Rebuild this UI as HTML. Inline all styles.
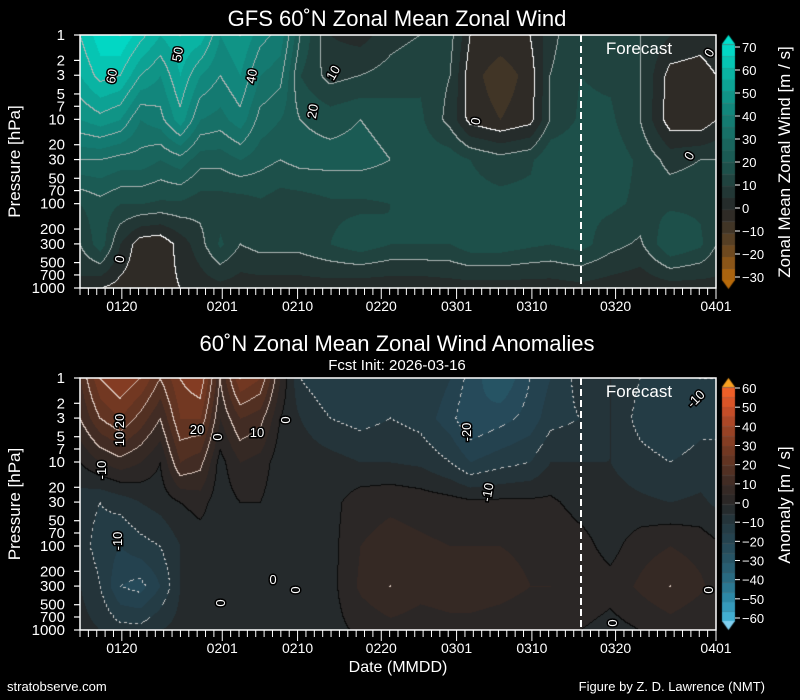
<!DOCTYPE html>
<html><head><meta charset="utf-8"><style>
body{margin:0;background:#000;width:800px;height:700px;overflow:hidden;font-family:"Liberation Sans",Arial,sans-serif}
canvas{position:absolute;left:0;top:0}
svg{position:absolute;left:0;top:0}
</style></head><body>
<canvas id="c" width="800" height="700"></canvas>
<svg width="800" height="700" id="s" font-family="Liberation Sans, Arial, sans-serif" fill="#fff"></svg>
<script>
const X=[80,100,120,140,160,180,200,220,240,260,280,300,330,360,390,420,450,470,500,530,550,580,610,640,670,700,716];
const LP=[0,Math.log10(3),1,Math.log10(30),2,Math.log10(300),3];
const T=[[60,55,45,30,15,10,3],[68,62,48,30,18,18,0],[70,60,45,28,15,5,-2],[62,50,35,28,15,-3,-3],[55,45,38,25,14,-4,-2],[60,55,48,28,14,2,0],[58,45,35,22,12,8,2],[45,40,33,22,12,16,3],[50,45,38,25,12,10,2],[42,35,28,22,14,12,2],[38,32,25,20,12,12,2],[20,15,20,22,12,12,2],[5,8,18,22,14,15,2],[3,10,20,22,14,18,1],[8,12,18,20,15,15,1],[10,14,16,18,15,15,1],[12,10,8,18,16,15,2],[0,-3,-2,15,17,18,2],[-2,-8,-5,12,17,18,2],[0,-3,-2,14,17,16,2],[8,10,10,20,17,15,2],[15,15,16,20,16,17,3],[12,14,16,18,16,12,2],[10,10,10,14,14,9,1],[5,-2,-3,8,14,20,2],[3,-3,-4,10,14,16,2],[5,0,0,10,12,10,3]];
const B=[[15,10,0,-8,-8,-5,-3],[30,20,5,-10,-12,-10,-5],[35,25,8,-8,-15,-20,-8],[30,18,5,-5,-12,-22,-8],[20,10,0,-3,-10,-15,-5],[30,25,15,0,-5,-5,-3],[35,25,12,2,-3,-3,-2],[10,5,-2,-3,-3,-2,-2],[30,15,5,0,-3,-3,-2],[25,12,3,0,-3,-2,-2],[5,0,-3,-3,-3,-2,-2],[-10,-5,-2,-3,-3,-2,-2],[-15,-10,-3,-2,-2,-2,-2],[-15,-12,-5,3,5,6,1],[-12,-10,-5,4,7,10,3],[-10,-12,-6,3,6,7,2],[-15,-18,-10,2,5,8,3],[-22,-25,-15,1,5,8,3],[-30,-22,-12,1,5,7,2],[-20,-18,-10,1,4,5,1],[-15,-12,-5,1,4,5,1],[-8,-10,-5,-2,2,4,0],[-5,-5,-5,-3,-2,2,-2],[-10,-12,-8,-4,3,6,0],[-12,-15,-10,-5,5,10,2],[-10,-12,-8,-4,3,6,0],[-10,-12,-8,-6,1,3,0]];
const CT=[[-30,'#b86a0a'],[-20,'#7a4e1c'],[-10,'#4a3a26'],[0,'#262626'],[10,'#213d3a'],[20,'#1c564f'],[30,'#186a62'],[40,'#138076'],[50,'#0f9a8c'],[60,'#08bcab'],[70,'#00e0cc']];
const CB=[[-60,'#48b8dc'],[-50,'#2e90b0'],[-40,'#2a7088'],[-30,'#27586a'],[-20,'#254654'],[-10,'#233840'],[0,'#262626'],[10,'#3a2a24'],[20,'#5a3222'],[30,'#7a3a22'],[40,'#a04426'],[50,'#d05028'],[60,'#f86428']];
function hx(h){return [1,3,5].map(i=>parseInt(h.substr(i,2),16));}
function cm(st,v){if(v<=st[0][0])return hx(st[0][1]);for(let i=1;i<st.length;i++){if(v<=st[i][0]){const a=hx(st[i-1][1]),b=hx(st[i][1]),t=(v-st[i-1][0])/(st[i][0]-st[i-1][0]);return a.map((q,k)=>q+(b[k]-q)*t);}}return hx(st[st.length-1][1]);}
function val(G,x,lp){let i=0;while(i<X.length-2&&x>X[i+1])i++;let tx=(x-X[i])/(X[i+1]-X[i]);tx=Math.max(0,Math.min(1,tx));let j=0;while(j<LP.length-2&&lp>LP[j+1])j++;let ty=(lp-LP[j])/(LP[j+1]-LP[j]);ty=Math.max(0,Math.min(1,ty));
const a=G[i][j],b=G[i+1][j],c=G[i][j+1],d=G[i+1][j+1];return a*(1-tx)*(1-ty)+b*tx*(1-ty)+c*(1-tx)*ty+d*tx*ty+0.013;}
const ctx=document.getElementById('c').getContext('2d');
function draw(G,st,y0,y1,anom){const w=636,h=y1-y0;const img=ctx.createImageData(w,h);const V=[];
for(let y=0;y<h;y++){const lp=3*y/h;const row=[];for(let x=0;x<w;x++){row.push(val(G,80+x,lp));}V.push(row);}
for(let y=0;y<h;y++)for(let x=0;x<w;x++){const v=V[y][x];const q=Math.floor(v/5)*5+2.5;let c=cm(st,q);
const l=Math.floor(v/10);let edge=null;
if(x<w-1&&Math.floor(V[y][x+1]/10)!==l)edge=Math.max(v,V[y][x+1]);if(y<h-1&&Math.floor(V[y+1][x]/10)!==l)edge=Math.max(v,V[y+1][x]);
if(edge!==null){const lv=Math.floor(edge/10)*10;
if(anom){if(lv===0)c=[10,10,10];else if(lv>0)c=[220,200,190];else c=((x+y)%6<3)?[200,200,200]:c;}
else{c=lv===0?[255,255,255]:[170,180,178];}}
const k=(y*w+x)*4;img.data[k]=c[0];img.data[k+1]=c[1];img.data[k+2]=c[2];img.data[k+3]=255;}
ctx.putImageData(img,80,y0);}
draw(T,CT,35,288,false);draw(B,CB,378,630,true);
function cbar(st,y0,y1,vmin,vmax,step){const n=(vmax-vmin)/step;const hh=(y1-y0)/n;for(let i=0;i<n;i++){const c=cm(st,vmin+step*(i+0.5));ctx.fillStyle='rgb('+c.map(Math.round)+')';ctx.fillRect(722,y1-(i+1)*hh,13,hh+0.5);ctx.fillStyle='#666';ctx.fillRect(722,y1-(i+1)*hh,13,0.6);}}
cbar(CT,44,280,-30,70,5);cbar(CB,387,621,-60,60,5);
function tri(y,tip,c){ctx.fillStyle=c;ctx.beginPath();ctx.moveTo(722,y);ctx.lineTo(735,y);ctx.lineTo(728.5,tip);ctx.closePath();ctx.fill();}
tri(44,35,'#00e0cc');tri(280,289,'#b86a0a');tri(387,378,'#f8a020');tri(621,630,'#80d0f0');
let s='';
const P=[1,2,3,5,7,10,20,30,50,70,100,200,300,500,700,1000];
function axes(y0,y1){s+=`<rect x="80" y="${y0}" width="636" height="${y1-y0}" fill="none" stroke="#fff" stroke-width="1.5"/>`;
P.forEach(p=>{const y=y0+(y1-y0)*Math.log10(p)/3;s+=`<line x1="74" x2="80" y1="${y}" y2="${y}" stroke="#fff" stroke-width="1.2"/><text x="65" y="${y+5}" font-size="15" text-anchor="end">${p}</text>`;});
for(let d=0;d<=76;d++){const x=80+d*636/76;const maj=[5,17,26,36,45,54,64,76].includes(d);s+=`<line x1="${x}" x2="${x}" y1="${y1}" y2="${y1+(maj?11:7)}" stroke="#fff" stroke-width="1"/>`;}
[['0120',5],['0201',17],['0210',26],['0220',36],['0301',45],['0310',54],['0320',64],['0401',76]].forEach(a=>{const x=80+a[1]*636/76;s+=`<text x="${x}" y="${y1+23}" font-size="14" text-anchor="middle">${a[0]}</text>`;});
s+=`<line x1="581" x2="581" y1="${y0}" y2="${y1}" stroke="#fff" stroke-width="2" stroke-dasharray="7,4"/><text x="639" y="${y0+19}" font-size="17" text-anchor="middle">Forecast</text>`;
s+=`<text transform="translate(20,${(y0+y1)/2}) rotate(-90)" font-size="17" text-anchor="middle">Pressure [hPa]</text>`;}
axes(35,288);axes(378,630);
function cticks(y0,y1,vmin,vmax,step){for(let v=vmin;v<=vmax;v+=step){const y=y1-(v-vmin)/(vmax-vmin)*(y1-y0);s+=`<line x1="735" x2="740" y1="${y}" y2="${y}" stroke="#fff"/><text x="742" y="${y+5}" font-size="13">${v<0?'−'+(-v):v}</text>`;}}
cticks(47,277,-30,70,10);cticks(388,618,-60,60,10);
s+=`<text transform="translate(790,162) rotate(-90)" font-size="17" text-anchor="middle">Zonal Mean Zonal Wind [m / s]</text>`;
s+=`<text transform="translate(790,505) rotate(-90)" font-size="17" text-anchor="middle">Anomaly [m / s]</text>`;
s+=`<text x="397" y="26" font-size="22" text-anchor="middle">GFS 60˚N Zonal Mean Zonal Wind</text>`;
s+=`<text x="397" y="351" font-size="22" text-anchor="middle">60˚N Zonal Mean Zonal Wind Anomalies</text>`;
s+=`<text x="397" y="370" font-size="15" text-anchor="middle">Fcst Init: 2026-03-16</text>`;
s+=`<text x="398" y="672" font-size="16" text-anchor="middle">Date (MMDD)</text>`;
s+=`<text x="7" y="691" font-size="13">stratobserve.com</text><text x="765" y="691" font-size="13" text-anchor="end">Figure by Z. D. Lawrence (NMT)</text>`;
function lab(x,y,t,r){s+=`<text transform="translate(${x},${y}) rotate(${r||0})" font-size="13" text-anchor="middle" stroke="#000" stroke-width="3" paint-order="stroke">${t}</text>`;}
lab(116,77,'60',-80);lab(182,55,'50',-80);lab(256,77,'40',-80);lab(337,75,'10',-60);lab(317,112,'20',-80);lab(124,260,'0',-80);lab(480,122,'0',-80);lab(693,158,'0',-60);lab(713,55,'0',-60);
lab(124,430,'10 20',-90);lab(197,434,'20',0);lab(222,437,'0',-90);lab(257,437,'10',0);lab(290,420,'0',-90);lab(106,470,'-10',-90);lab(122,541,'-10',-90);lab(471,432,'-20',-90);lab(492,493,'-10',-80);lab(273,584,'0',0);lab(225,603,'0',-90);lab(300,590,'0',-90);lab(617,623,'0',-90);lab(713,590,'0',-90);lab(699,402,'-10',-45);
document.getElementById('s').innerHTML=s;
</script>
</body></html>
